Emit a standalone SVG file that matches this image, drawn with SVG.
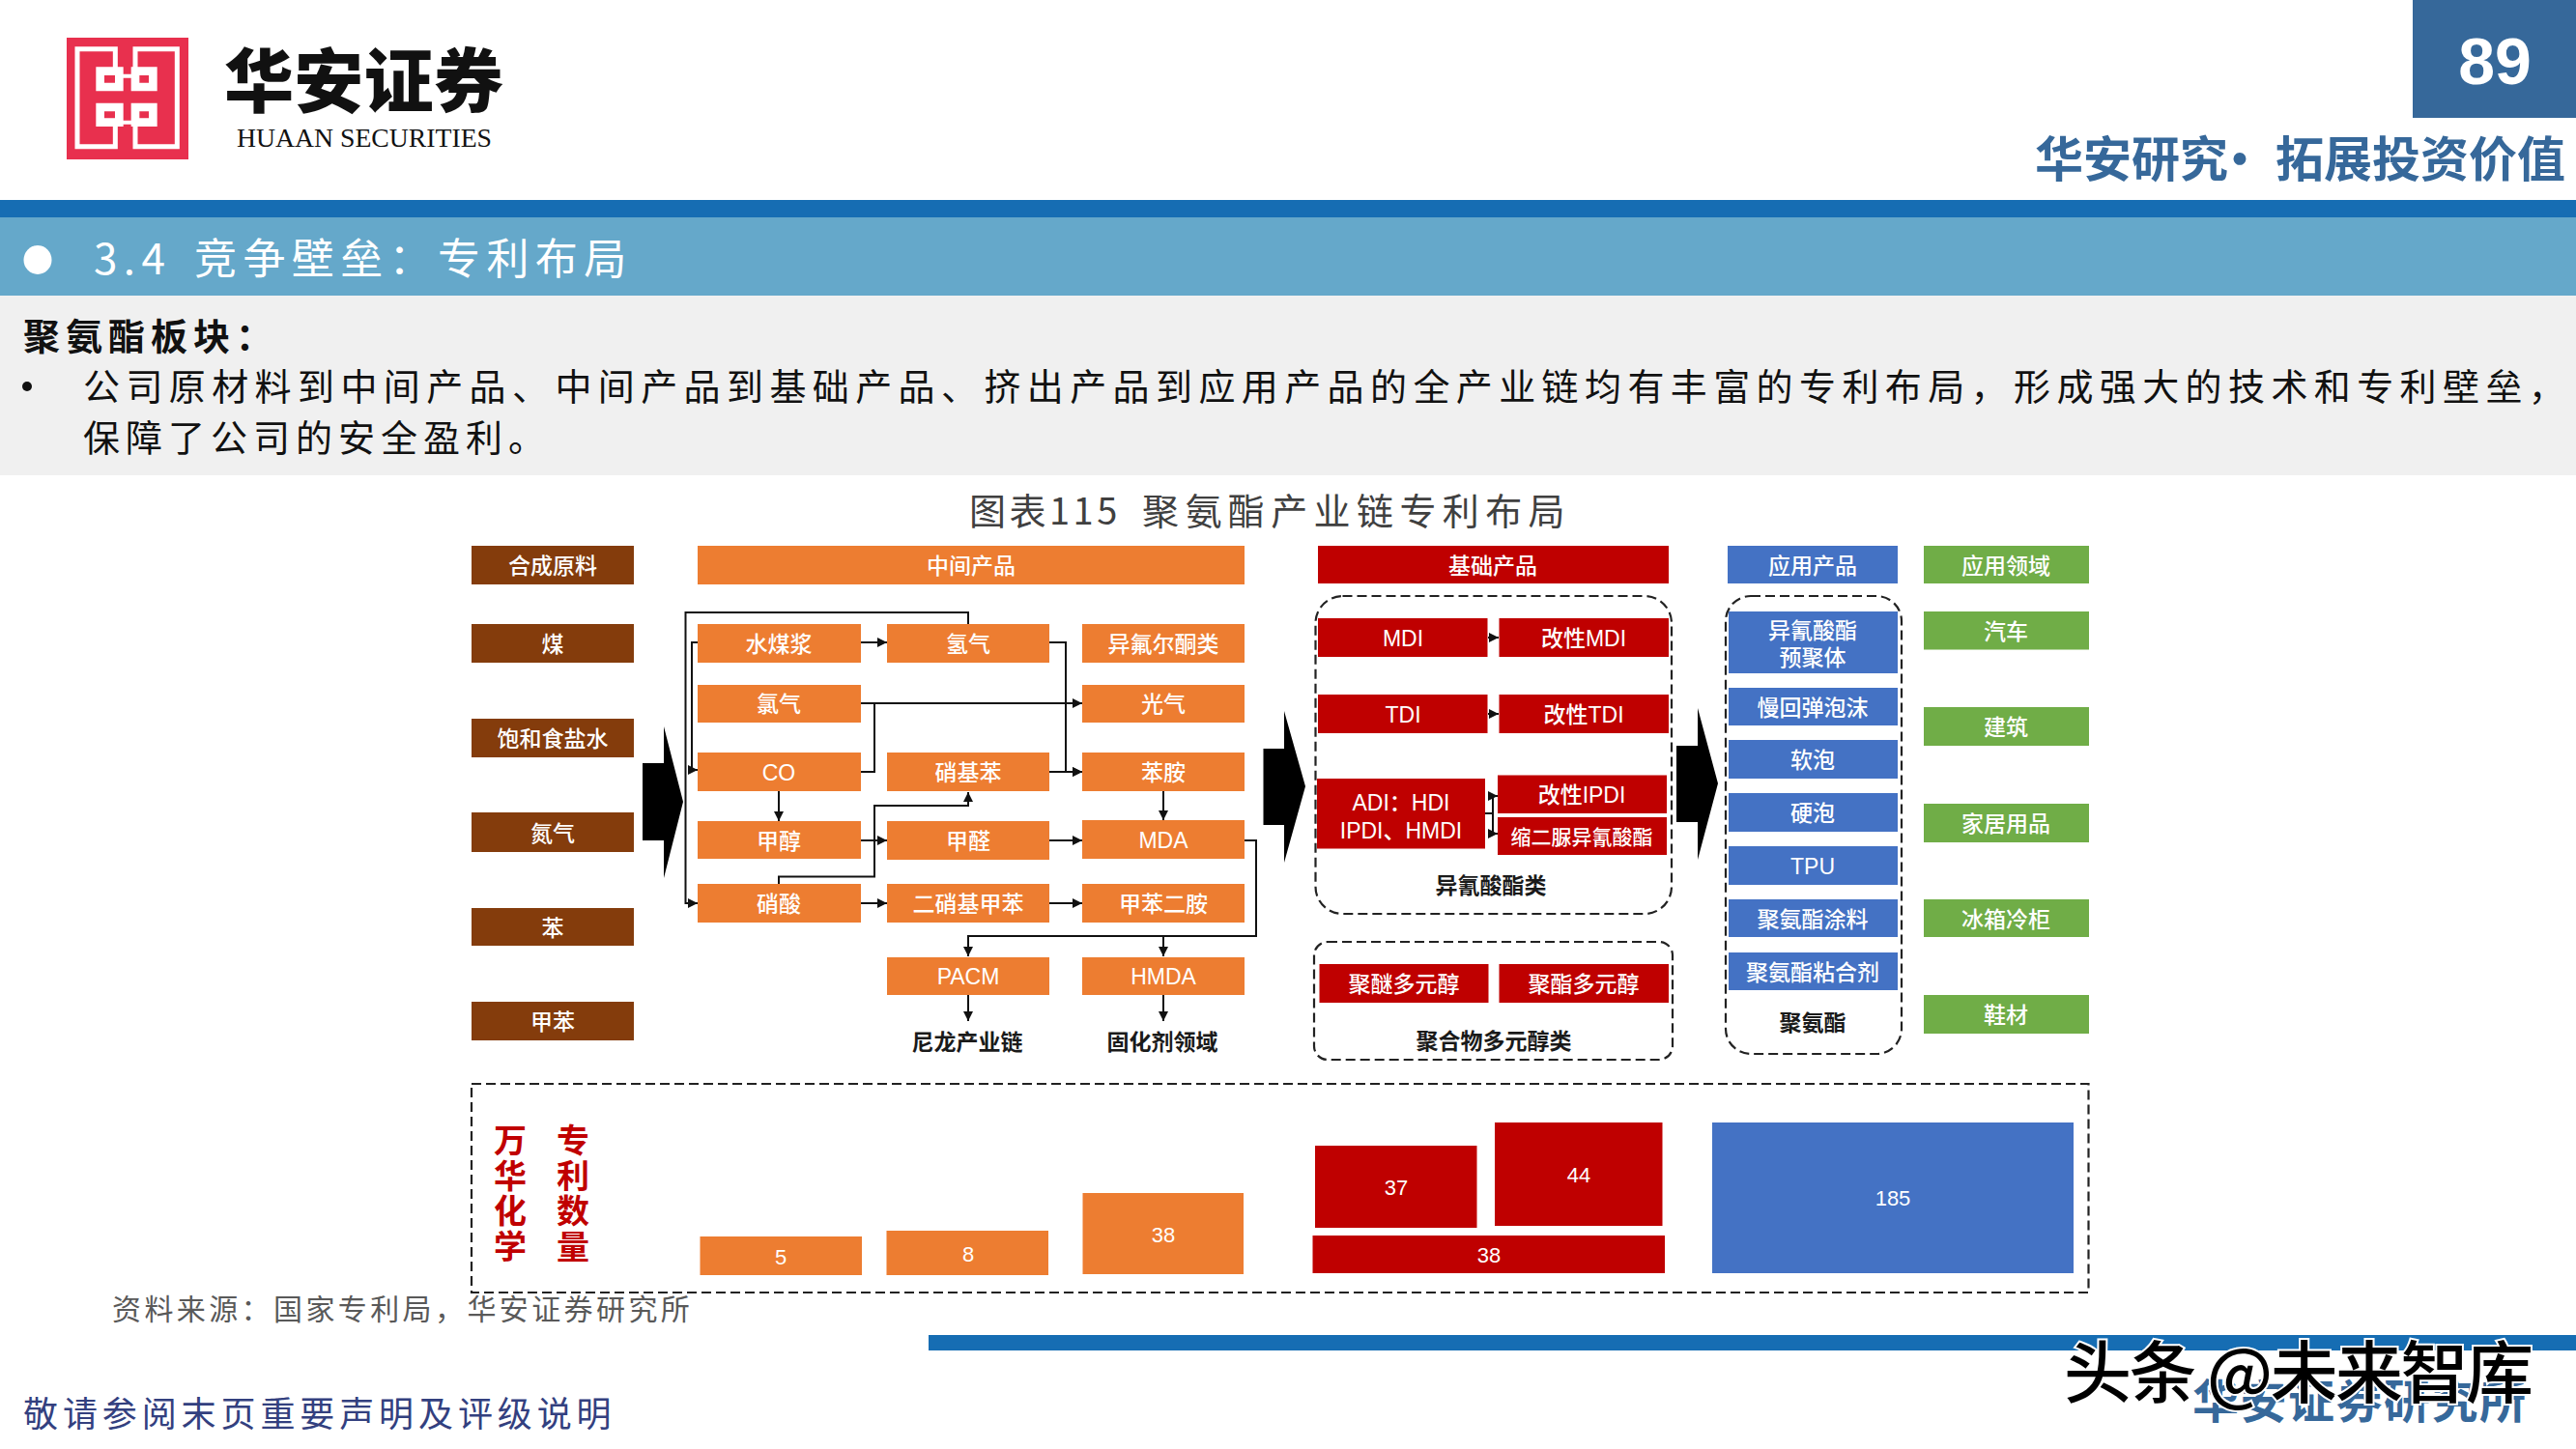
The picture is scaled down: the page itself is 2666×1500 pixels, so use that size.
<svg xmlns="http://www.w3.org/2000/svg" width="2666" height="1500" viewBox="0 0 2666 1500">
<style>
text{font-family:"Liberation Sans","Noto Sans CJK SC",sans-serif}
.cjk{font-family:"Noto Sans CJK SC",sans-serif}
.t{font-size:23px;fill:#fff;text-anchor:middle;font-weight:500;transform:translateY(1px)}
.l{font-size:23px;fill:#1a1a1a;text-anchor:middle;font-weight:700}
.v{font-size:22px;fill:#fff;text-anchor:middle}
.brown{fill:#843c0c}.orange{fill:#ed7d31}.red{fill:#bf0000}.blue{fill:#4472c4}.green{fill:#70ad47}
.dash{fill:none;stroke:#222;stroke-width:2.2;stroke-dasharray:10 5}
.c{fill:none;stroke:#111;stroke-width:2}
.body{font-size:38px;fill:#111;letter-spacing:6px;font-family:"Noto Sans CJK SC",sans-serif}
.rv{font-size:34px;fill:#c00000;font-weight:700;letter-spacing:2.6px;writing-mode:vertical-rl;font-family:"Noto Sans CJK SC",sans-serif}
</style>
<defs>
<marker id="a" viewBox="0 0 10 10" refX="10" refY="5" markerWidth="10" markerHeight="10" markerUnits="userSpaceOnUse" orient="auto"><path d="M0 0L10 5L0 10z" fill="#111"/></marker>
</defs>
<rect width="2666" height="1500" fill="#fff"/>

<g id="header">
<g id="logo">
<rect x="69" y="39" width="126" height="126" fill="#e8304e"/>
<g transform="translate(60 30) scale(.3333)" fill="none" stroke="#fff">
<path stroke-width="15" d="M178 125V62H60V365H178V300M240 125V62H370V365H240V300"/>
<path stroke-width="26" d="M131 131H190V180H131ZM240 131H295V180H240ZM131 243H190V290H131ZM240 243H295V290H240Z"/>
<path stroke-width="12" d="M190 146H240M190 290H240"/>
</g>
</g>
<text id="logo-cn" class="cjk" x="232" y="110" font-size="72" font-weight="900" fill="#111" textLength="289" lengthAdjust="spacing">华安证券</text>
<text id="logo-en" x="245" y="152" font-size="28" fill="#111" textLength="264" lengthAdjust="spacingAndGlyphs" style="font-family:'Liberation Serif',serif">HUAAN SECURITIES</text>
<rect x="2497" y="0" width="169" height="122" fill="#36689a"/>
<text x="2582" y="87" font-size="68" font-weight="700" fill="#fff" text-anchor="middle">89</text>
<text class="cjk" x="2106" y="183" font-size="50" font-weight="700" fill="#36689a">华安研究<tspan x="2293">•</tspan><tspan x="2355">拓展投资价值</tspan></text>
<rect x="0" y="207" width="2666" height="18" fill="#166db3"/>
<rect x="0" y="225" width="2666" height="81" fill="#65a8ca"/>
<rect x="0" y="306" width="2666" height="186" fill="#f0f0f0"/>
<ellipse cx="39" cy="269" rx="14.5" ry="15" fill="#fff"/>
<text class="cjk" x="97" y="284" font-size="44" fill="#fff" letter-spacing="6.4">3.4<tspan x="201">竞争壁垒&#xFF1A;专利布局</tspan></text>
<text class="body" x="24" y="362" font-weight="700">聚氨酯板块&#xFF1A;</text>
<circle cx="28" cy="400" r="5" fill="#111"/>
<text class="body" style="letter-spacing:6.4px" x="86" y="414">公司原材料到中间产品、中间产品到基础产品、挤出产品到应用产品的全产业链均有丰富的专利布局&#xFF0C;形成强大的技术和专利壁垒&#xFF0C;</text>
<text class="body" x="86" y="467">保障了公司的安全盈利。</text>
<text class="cjk" x="1003" y="543" font-size="38" fill="#404040" letter-spacing="3.5">图表115<tspan x="1182" letter-spacing="6.4">聚氨酯产业链专利布局</tspan></text>
</g>

<g id="connectors">
<path class="c" marker-end="url(#a)" d="M1002 646V634H709.5V935H722"/>
<path class="c" marker-end="url(#a)" d="M722 665H716V797H722"/>
<path class="c" marker-end="url(#a)" d="M891 665H918"/>
<path class="c" marker-end="url(#a)" d="M1086 665H1103V799H1120"/>
<path class="c" marker-end="url(#a)" d="M1086 799H1120"/>
<path class="c" marker-end="url(#a)" d="M891 728H1120"/>
<path class="c" d="M891 799H905V728"/>
<path class="c" marker-end="url(#a)" d="M806 819V850"/>
<path class="c" marker-end="url(#a)" d="M1204 819V849"/>
<path class="c" marker-end="url(#a)" d="M891 870H918"/>
<path class="c" marker-end="url(#a)" d="M1086 870H1120"/>
<path class="c" marker-end="url(#a)" d="M1288 870H1300V969H1002V990"/>
<path class="c" marker-end="url(#a)" d="M1204 969V990"/>
<path class="c" marker-end="url(#a)" d="M806 915V907.5H905V834H1002V820"/>
<path class="c" marker-end="url(#a)" d="M891 935H918"/>
<path class="c" marker-end="url(#a)" d="M1086 935H1120"/>
<path class="c" marker-end="url(#a)" d="M1002 1030V1057"/>
<path class="c" marker-end="url(#a)" d="M1204 1030V1057"/>
<path class="c" marker-end="url(#a)" d="M1540 660H1551"/>
<path class="c" marker-end="url(#a)" d="M1540 739H1551"/>
<path class="c" marker-end="url(#a)" d="M1537 842H1545V824H1550"/>
<path class="c" marker-end="url(#a)" d="M1545 842V863H1550"/>
<path id="big-arrow-1" fill="#000" d="M665 790H687V752L707 830L687 909V870H665Z"/>
<path id="big-arrow-2" fill="#000" d="M1307.5 775H1329V736L1351 814L1329 893V854H1307.5Z"/>
<path id="big-arrow-3" fill="#000" d="M1735 772H1757V733L1778 811L1757 890V851H1735Z"/>
</g>

<g id="raw-header"><rect class="brown" x="488" y="565" width="168" height="40"/><text class="t" x="572" y="593">合成原料</text></g>
<g id="raw-coal"><rect class="brown" x="488" y="646" width="168" height="40"/><text class="t" x="572" y="674">煤</text></g>
<g id="raw-brine"><rect class="brown" x="488" y="744" width="168" height="40"/><text class="t" x="572" y="772">饱和食盐水</text></g>
<g id="raw-n2"><rect class="brown" x="488" y="841" width="168" height="41"/><text class="t" x="572" y="870">氮气</text></g>
<g id="raw-benzene"><rect class="brown" x="488" y="940" width="168" height="39"/><text class="t" x="572" y="968">苯</text></g>
<g id="raw-toluene"><rect class="brown" x="488" y="1037" width="168" height="40"/><text class="t" x="572" y="1065">甲苯</text></g>

<g id="mid-header"><rect class="orange" x="722" y="565" width="566" height="40"/><text class="t" x="1005" y="593">中间产品</text></g>
<g id="mid-slurry"><rect class="orange" x="722" y="646" width="169" height="40"/><text class="t" x="806" y="674">水煤浆</text></g>
<g id="mid-h2"><rect class="orange" x="918" y="646" width="168" height="40"/><text class="t" x="1002" y="674">氢气</text></g>
<g id="mid-ipk"><rect class="orange" x="1120" y="646" width="168" height="40"/><text class="t" x="1204" y="674">异氟尔酮类</text></g>
<g id="mid-cl2"><rect class="orange" x="722" y="709" width="169" height="39"/><text class="t" x="806" y="736">氯气</text></g>
<g id="mid-phosgene"><rect class="orange" x="1120" y="709" width="168" height="39"/><text class="t" x="1204" y="736">光气</text></g>
<g id="mid-co"><rect class="orange" x="722" y="779" width="169" height="40"/><text class="t" x="806" y="807">CO</text></g>
<g id="mid-nb"><rect class="orange" x="918" y="779" width="168" height="40"/><text class="t" x="1002" y="807">硝基苯</text></g>
<g id="mid-aniline"><rect class="orange" x="1120" y="779" width="168" height="40"/><text class="t" x="1204" y="807">苯胺</text></g>
<g id="mid-meoh"><rect class="orange" x="722" y="850" width="169" height="39"/><text class="t" x="806" y="878">甲醇</text></g>
<g id="mid-hcho"><rect class="orange" x="918" y="850" width="168" height="40"/><text class="t" x="1002" y="878">甲醛</text></g>
<g id="mid-mda"><rect class="orange" x="1120" y="849" width="168" height="40"/><text class="t" x="1204" y="877">MDA</text></g>
<g id="mid-hno3"><rect class="orange" x="722" y="915" width="169" height="40"/><text class="t" x="806" y="943">硝酸</text></g>
<g id="mid-dnt"><rect class="orange" x="918" y="915" width="168" height="40"/><text class="t" x="1002" y="943">二硝基甲苯</text></g>
<g id="mid-tda"><rect class="orange" x="1120" y="915" width="168" height="40"/><text class="t" x="1204" y="943">甲苯二胺</text></g>
<g id="mid-pacm"><rect class="orange" x="918" y="991" width="168" height="39"/><text class="t" x="1002" y="1018">PACM</text></g>
<g id="mid-hmda"><rect class="orange" x="1120" y="991" width="168" height="39"/><text class="t" x="1204" y="1018">HMDA</text></g>
<g id="lbl-nylon"><text class="l" x="1001" y="1087">尼龙产业链</text></g>
<g id="lbl-curing"><text class="l" x="1203" y="1087">固化剂领域</text></g>

<g id="base-header"><rect class="red" x="1364" y="565" width="363" height="39"/><text class="t" x="1545" y="593">基础产品</text></g>
<g id="box-isocyanate"><rect class="dash" x="1361.5" y="617" width="368.5" height="329" rx="28"/><text class="l" x="1543" y="925">异氰酸酯类</text></g>
<g id="base-mdi"><rect class="red" x="1364" y="640" width="175.5" height="40"/><text class="t" x="1452" y="668">MDI</text></g>
<g id="base-mmdi"><rect class="red" x="1551.5" y="640" width="175.5" height="40"/><text class="t" x="1639" y="668">改性MDI</text></g>
<g id="base-tdi"><rect class="red" x="1364" y="719" width="175.5" height="40"/><text class="t" x="1452" y="747">TDI</text></g>
<g id="base-mtdi"><rect class="red" x="1551.5" y="719" width="175.5" height="40"/><text class="t" x="1639" y="747">改性TDI</text></g>
<g id="base-adi"><rect class="red" x="1363" y="806" width="174" height="72.5"/><text class="t" x="1450" y="838">ADI&#xFF1A;HDI<tspan x="1450" dy="29">IPDI、HMDI</tspan></text></g>
<g id="base-mipdi"><rect class="red" x="1550" y="802.5" width="175" height="39.5"/><text class="t" x="1637" y="830">改性IPDI</text></g>
<g id="base-biuret"><rect class="red" x="1550" y="846" width="175" height="39"/><text class="t" style="font-size:21px" x="1637" y="873">缩二脲异氰酸酯</text></g>
<g id="box-polyol"><rect class="dash" x="1360" y="975" width="371" height="122" rx="14"/><text class="l" x="1546" y="1086">聚合物多元醇类</text></g>
<g id="base-ppg"><rect class="red" x="1365.5" y="998" width="175" height="40"/><text class="t" x="1453" y="1026">聚醚多元醇</text></g>
<g id="base-pes"><rect class="red" x="1551.5" y="998" width="175.5" height="40"/><text class="t" x="1639" y="1026">聚酯多元醇</text></g>

<g id="app-header"><rect class="blue" x="1788" y="565" width="176" height="39"/><text class="t" x="1876" y="593">应用产品</text></g>
<g id="box-pu"><rect class="dash" x="1786" y="617" width="182" height="474" rx="26"/><text class="l" x="1876" y="1067">聚氨酯</text></g>
<g id="app-prepolymer"><rect class="blue" x="1789" y="633" width="175" height="64"/><text class="t" x="1876" y="660">异氰酸酯<tspan x="1876" dy="28">预聚体</tspan></text></g>
<g id="app-memory"><rect class="blue" x="1789" y="712" width="175" height="39"/><text class="t" x="1876" y="740">慢回弹泡沫</text></g>
<g id="app-soft"><rect class="blue" x="1789" y="766" width="175" height="40"/><text class="t" x="1876" y="794">软泡</text></g>
<g id="app-hard"><rect class="blue" x="1789" y="821" width="175" height="40"/><text class="t" x="1876" y="849">硬泡</text></g>
<g id="app-tpu"><rect class="blue" x="1789" y="876" width="175" height="40"/><text class="t" x="1876" y="904">TPU</text></g>
<g id="app-coating"><rect class="blue" x="1789" y="931" width="175" height="39"/><text class="t" x="1876" y="959">聚氨酯涂料</text></g>
<g id="app-adhesive"><rect class="blue" x="1789" y="986" width="175" height="39"/><text class="t" x="1876" y="1014">聚氨酯粘合剂</text></g>

<g id="use-header"><rect class="green" x="1991" y="565" width="171" height="39"/><text class="t" x="2076" y="593">应用领域</text></g>
<g id="use-auto"><rect class="green" x="1991" y="633" width="171" height="39.5"/><text class="t" x="2076" y="661">汽车</text></g>
<g id="use-build"><rect class="green" x="1991" y="732" width="171" height="40"/><text class="t" x="2076" y="760">建筑</text></g>
<g id="use-home"><rect class="green" x="1991" y="832" width="171" height="40"/><text class="t" x="2076" y="860">家居用品</text></g>
<g id="use-fridge"><rect class="green" x="1991" y="931" width="171" height="39"/><text class="t" x="2076" y="959">冰箱冷柜</text></g>
<g id="use-shoe"><rect class="green" x="1991" y="1030" width="171" height="40"/><text class="t" x="2076" y="1058">鞋材</text></g>

<g id="patents">
<rect class="dash" x="488" y="1122" width="1673.5" height="216"/>
<text class="rv" x="528" y="1163">万华化学</text>
<text class="rv" x="593" y="1163">专利数量</text>
<g id="p-5"><rect class="orange" x="724.5" y="1280" width="167.5" height="40"/><text class="v" x="808" y="1309">5</text></g>
<g id="p-8"><rect class="orange" x="917.5" y="1274" width="167.5" height="46"/><text class="v" x="1002" y="1306">8</text></g>
<g id="p-38a"><rect class="orange" x="1120.5" y="1235" width="166.5" height="84"/><text class="v" x="1204" y="1286">38</text></g>
<g id="p-37"><rect class="red" x="1361" y="1186" width="167.5" height="85"/><text class="v" x="1445" y="1237">37</text></g>
<g id="p-44"><rect class="red" x="1547" y="1162" width="173.5" height="107"/><text class="v" x="1634" y="1224">44</text></g>
<g id="p-38b"><rect class="red" x="1358.5" y="1279" width="364.5" height="39"/><text class="v" x="1541" y="1307">38</text></g>
<g id="p-185"><rect class="blue" x="1772" y="1162" width="374" height="156"/><text class="v" x="1959" y="1248">185</text></g>
</g>

<g id="footer">
<text class="cjk" x="116" y="1366" font-size="30" fill="#595959" letter-spacing="3.4">资料来源&#xFF1A;国家专利局&#xFF0C;华安证券研究所</text>
<rect x="961" y="1382" width="1705" height="16" fill="#166db3"/>
<text class="cjk" x="24" y="1477" font-size="36" fill="#33407f" letter-spacing="4.9">敬请参阅末页重要声明及评级说明</text>
<text class="cjk" x="2269" y="1468" font-size="48" font-weight="700" fill="#36689a" letter-spacing="1.5">华安证券研究所</text>
<text class="cjk" x="2136" y="1447" font-size="70" font-weight="500" fill="#000" stroke="#fff" stroke-width="4" paint-order="stroke" textLength="486">头条 @未来智库</text>
</g>
</svg>
